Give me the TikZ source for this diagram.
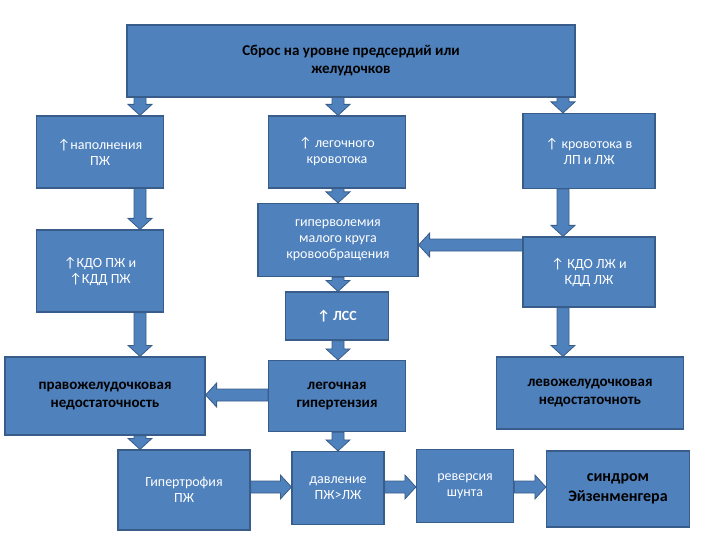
\documentclass[tikz,border=0pt]{standalone}
\usepackage{fontspec}
\setmainfont{Carlito}
\usetikzlibrary{calc}
\definecolor{bfill}{HTML}{4F81BD}
\definecolor{bline}{HTML}{385D8A}
\tikzset{
 bx/.style={draw=bline,line width=1.2pt,fill=bfill,align=center,inner sep=2pt,font=\fontsize{14}{16}\selectfont,text=white},
 bb/.style={font=\bfseries\fontsize{15}{18}\selectfont,text=black},
 ar/.style={fill=bfill,draw=bline,line width=0.8pt}
}
\newcommand\boxat[6]{\node[bx,#6,minimum width=#4pt,minimum height=#5pt] (#1) at (#2,#3) {};}
\newcommand\varr[2]{\path let \p1=#1, \p2=#2 in
 [ar] (\x1-6pt,\y1) -- (\x1+6pt,\y1) -- (\x1+6pt,\y2+11pt) -- (\x1+12pt,\y2+11pt) -- (\x1,\y2) -- (\x1-12pt,\y2+11pt) -- (\x1-6pt,\y2+11pt) -- cycle;}
\newcommand\harr[2]{\path let \p1=#1, \p2=#2 in
 [ar] (\x1,\y1-6pt) -- (\x1,\y1+6pt) -- (\x2-11pt,\y1+6pt) -- (\x2-11pt,\y1+12pt) -- (\x2,\y1) -- (\x2-11pt,\y1-12pt) -- (\x2-11pt,\y1-6pt) -- cycle;}
\newcommand\larr[2]{\path let \p1=#1, \p2=#2 in
 [ar] (\x1,\y1-6pt) -- (\x1,\y1+6pt) -- (\x2+11pt,\y1+6pt) -- (\x2+11pt,\y1+12pt) -- (\x2,\y1) -- (\x2+11pt,\y1-12pt) -- (\x2+11pt,\y1-6pt) -- cycle;}
\begin{document}
\begin{tikzpicture}[x=1pt,y=-1pt]
\useasboundingbox (0,0) rectangle (720,540);
% columns / rows for arrows
\coordinate (xa) at (140,0);
\coordinate (xb) at (338,0);
\coordinate (xc) at (563,0);
\coordinate (y1) at (0,245);
\coordinate (y2) at (0,395);
\coordinate (y3) at (0,487);
% boxes
\node[bx,bb,minimum width=448pt,minimum height=72pt] (T) at (351,61) {Сброс на уровне предсердий или\\желудочков};
\node[bx,minimum width=127pt,minimum height=72pt] (A) at (100,152) {↑наполнения\\ПЖ};
\node[bx,minimum width=137pt,minimum height=72pt] (B) at (337,152) {↑ легочного\\кровотока};
\node[bx,minimum width=132pt,minimum height=75pt] (C) at (589,151) {↑ кровотока в\\ЛП и ЛЖ};
\node[bx,minimum width=127pt,minimum height=82pt] (D) at (100,271) {↑КДО ПЖ и\\↑КДД ПЖ};
\node[bx,minimum width=160pt,minimum height=73pt] (E) at (338,240) {гиперволемия\\малого круга\\кровообращения};
\node[bx,minimum width=132pt,minimum height=70pt] (F) at (589,272) {↑ КДО ЛЖ и\\КДД ЛЖ};
\node[bx,font=\bfseries\fontsize{14}{16}\selectfont,minimum width=103pt,minimum height=48pt] (G) at (337,316) {↑ ЛСС};
\node[bx,bb,minimum width=200pt,minimum height=78pt] (H) at (105,396) {правожелудочковая\\недостаточность};
\node[bx,bb,minimum width=137pt,minimum height=71pt] (I) at (337,396) {легочная\\гипертензия};
\node[bx,bb,minimum width=187pt,minimum height=72pt] (J) at (590,393) {левожелудочковая\\недостаточноть};
\node[bx,minimum width=132pt,minimum height=80pt] (K) at (184,490) {Гипертрофия\\ПЖ};
\node[bx,minimum width=92pt,minimum height=73pt] (L) at (338,488) {давление\\ПЖ>ЛЖ};
\node[bx,minimum width=97pt,minimum height=73pt] (M) at (465,486) {реверсия\\шунта};
\node[bx,bb,font=\bfseries\fontsize{16}{20}\selectfont,minimum width=143pt,minimum height=76pt] (N) at (618,489) {синдром\\Эйзенменгера};
% arrows
\varr{(T.south -| xa)}{(A.north -| xa)}
\varr{(T.south -| xb)}{(B.north -| xb)}
\varr{(T.south -| xc)}{(C.north -| xc)}
\varr{(A.south -| xa)}{(D.north -| xa)}
\varr{(B.south -| xb)}{(E.north -| xb)}
\varr{(C.south -| xc)}{(F.north -| xc)}
\varr{(D.south -| xa)}{(H.north -| xa)}
\varr{(E.south -| xb)}{(G.north -| xb)}
\varr{(G.south -| xb)}{(I.north -| xb)}
\varr{(F.south -| xc)}{(J.north -| xc)}
\varr{(H.south -| xa)}{(K.north -| xa)}
\varr{(I.south -| xb)}{(L.north -| xb)}
\larr{(F.west |- y1)}{(E.east |- y1)}
\larr{(I.west |- y2)}{(H.east |- y2)}
\harr{(K.east |- y3)}{(L.west |- y3)}
\harr{(L.east |- y3)}{(M.west |- y3)}
\harr{(M.east |- y3)}{(N.west |- y3)}
\end{tikzpicture}
\end{document}
